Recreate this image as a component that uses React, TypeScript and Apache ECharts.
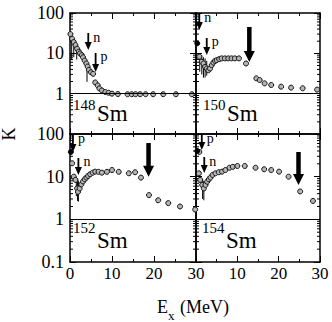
import React, { useEffect, useRef } from "react";
import * as echarts from "echarts";

const FONT = "Liberation Serif, Times New Roman, serif";

// x tick labels (MeV) and y tick labels (K)
const xTicks = [0, 10, 20, 30];
const yDecades = [0.1, 1, 10, 100];
const minorY = [0.2, 0.3, 0.4, 0.5, 0.6, 0.7, 0.8, 0.9, 2, 3, 4, 5, 6, 7, 8, 9, 20, 30, 40, 50, 60, 70, 80, 90];

// 148Sm
const sm148: [number, number][] = [
  [0.1, 30], [0.5, 23], [0.9, 19], [1.3, 16], [1.7, 13], [2.1, 11], [2.4, 10], [2.8, 9], [3.1, 8],
  [3.5, 6.6], [3.9, 5.6], [4.2, 4.7], [4.5, 3.9], [5.0, 3.4], [5.5, 3.1], [6.0, 1.9], [6.6, 1.6],
  [7.0, 1.35], [7.6, 1.2], [8.4, 1.1], [9.2, 1.05], [10.0, 1.0], [11.4, 0.98], [13.7, 0.97], [14.7, 0.97],
  [15.6, 0.97], [16.7, 0.97], [18.0, 0.97], [19.8, 0.97], [22.2, 0.97], [25.2, 0.97], [29.0, 0.97],
];
const sm148Filled: [number, number][] = [];
const err148: [number, number, number][] = [
  [0.4, 7, 26], [0.9, 8, 20], [1.6, 7, 14], [4.05, 1.97, 6.2],
];
const arrows148 = [
  { x: 4.35, top: 31.9, tip: 12.1, label: "n", thick: false },
  { x: 6.1, top: 10.2, tip: 3.44, label: "p", thick: false },
];

// 150Sm
const sm150: [number, number][] = [
  [0.8, 8.3], [1.4, 6.2], [1.8, 5.6], [2.2, 4.6], [2.6, 4.2], [3.0, 3.8], [3.4, 4.2], [3.8, 5.1],
  [4.2, 5.9], [4.6, 6.5], [5.0, 6.8], [5.6, 7.2], [6.2, 7.5], [7.0, 7.5], [7.8, 7.5], [8.6, 7.5],
  [9.4, 7.5], [10.4, 7.5], [12.1, 5.6], [14.6, 2.4], [15.4, 2.18], [16.6, 1.8], [18.2, 1.64],
  [20.6, 1.49], [23.0, 1.41], [25.8, 1.36], [29.3, 1.26],
];
const sm150Filled: [number, number][] = [[0.3, 17.7]];
const err150: [number, number, number][] = [
  [0.9, 3.5, 10], [1.4, 3, 9], [1.8, 2.5, 8], [2.2, 2.5, 7.5], [2.6, 2.8, 6.5],
];
const arrows150 = [
  { x: 0.8, top: 100, tip: 37.8, label: "n", thick: false },
  { x: 2.6, top: 24, tip: 9.1, label: "p", thick: false },
  { x: 12.9, top: 45, tip: 6.1, label: "", thick: true },
];

// 152Sm
const sm152: [number, number][] = [
  [0.5, 20.6], [0.9, 10], [1.3, 8.4], [1.7, 5.3], [1.9, 4.4], [2.3, 5.3], [2.7, 6.6], [3.1, 7.7],
  [3.5, 8.7], [3.9, 9.5], [4.3, 10.4], [4.8, 11.4], [5.4, 12.4], [6.0, 13.1], [6.8, 13], [7.6, 12.4],
  [8.8, 13], [10.0, 14.3], [11.6, 13], [14.0, 12], [15.5, 12.7], [16.9, 9.5], [18.8, 3.7],
  [21.0, 2.8], [23.4, 2.4], [26.2, 2.0], [29.8, 1.7],
];
const sm152Filled: [number, number][] = [[0.2, 38]];
const err152: [number, number, number][] = [
  [1.5, 3.5, 10], [1.8, 2.7, 9], [2.0, 2.6, 8],
];
const arrows152 = [
  { x: 0.7, top: 95, tip: 37.9, label: "p", thick: false },
  { x: 2.0, top: 27.4, tip: 11.0, label: "n", thick: false },
  { x: 18.7, top: 61.5, tip: 10, label: "", thick: true },
];

// 154Sm
const sm154: [number, number][] = [
  [0.8, 38], [0.7, 12], [1.0, 8.4], [1.5, 6.4], [1.9, 5.3], [2.3, 6.4], [2.7, 7.6], [3.1, 8.7],
  [3.5, 9.5], [4.0, 11], [4.7, 12], [5.5, 12.7], [6.3, 13.1], [7.1, 14.3], [8.1, 16.2], [8.9, 17],
  [10.0, 17.8], [11.8, 17.8], [14.4, 16.2], [16.5, 14.9], [18.2, 14.3], [20.1, 13.1], [22.4, 10],
  [25.2, 4.5], [28.3, 2.7],
];
const sm154Filled: [number, number][] = [[0.3, 40]];
const err154: [number, number, number][] = [
  [1.6, 3, 9], [1.9, 2.8, 8],
];
const arrows154 = [
  { x: 1.4, top: 95, tip: 42.2, label: "p", thick: false },
  { x: 2.0, top: 28.9, tip: 12.2, label: "n", thick: false },
  { x: 24.8, top: 37.9, tip: 6.4, label: "", thick: true },
];

type Arrow = { x: number; top: number; tip: number; label: string; thick: boolean };

function buildPanel(
  g: number,
  pts: [number, number][],
  filled: [number, number][],
  errs: [number, number, number][],
  arrows: Arrow[],
) {
  const xi = 2 * g;
  const yi = 2 * g;
  return [
    {
      type: "custom",
      xAxisIndex: xi,
      yAxisIndex: yi,
      data: minorY.map((v) => [0, v]),
      silent: true,
      z: 1,
      renderItem: (params: any, api: any) => {
        const cs = params.coordSys;
        const y = api.coord([0, api.value(1)])[1];
        return {
          type: "group",
          children: [
            { type: "line", shape: { x1: cs.x, y1: y, x2: cs.x + 3, y2: y }, style: { stroke: "#000", lineWidth: 1 } },
            { type: "line", shape: { x1: cs.x + cs.width - 3, y1: y, x2: cs.x + cs.width, y2: y }, style: { stroke: "#000", lineWidth: 1 } },
          ],
        };
      },
    },
    {
      type: "custom",
      xAxisIndex: xi,
      yAxisIndex: yi,
      data: errs,
      encode: { x: 0, y: [1, 2] },
      silent: true,
      z: 2,
      renderItem: (params: any, api: any) => {
        const p1 = api.coord([api.value(0), api.value(1)]);
        const p2 = api.coord([api.value(0), api.value(2)]);
        return { type: "line", shape: { x1: p1[0], y1: p1[1], x2: p2[0], y2: p2[1] }, style: { stroke: "#000", lineWidth: 1 } };
      },
    },
    {
      type: "scatter",
      xAxisIndex: xi,
      yAxisIndex: yi,
      data: pts,
      symbol: "circle",
      symbolSize: 5,
      itemStyle: { color: "#b4b4b4", borderColor: "#111", borderWidth: 1, opacity: 1 },
      z: 3,
      markLine: {
        silent: true,
        symbol: ["none", "none"],
        label: { show: false },
        lineStyle: { color: "#000", width: 1.2, type: "solid" },
        data: [{ yAxis: 1 }],
      },
    },
    {
      type: "scatter",
      xAxisIndex: xi,
      yAxisIndex: yi,
      data: filled,
      symbol: "circle",
      symbolSize: 5,
      itemStyle: { color: "#000", borderColor: "#000", borderWidth: 1, opacity: 1 },
      z: 3,
    },
    {
      type: "custom",
      xAxisIndex: xi,
      yAxisIndex: yi,
      data: arrows.map((a) => [a.x, a.top, a.tip]),
      encode: { x: 0, y: [1, 2] },
      silent: true,
      z: 5,
      renderItem: (params: any, api: any) => {
        const a = arrows[params.dataIndex];
        const p1 = api.coord([a.x, a.top]);
        const p2 = api.coord([a.x, a.tip]);
        const sw = a.thick ? 4.5 : 1.8;
        const hw = a.thick ? 11 : 7;
        const hl = a.thick ? 11 : 8;
        const x = p1[0];
        const children: any[] = [
          { type: "line", shape: { x1: x, y1: p1[1], x2: x, y2: p2[1] - hl + 1 }, style: { stroke: "#000", lineWidth: sw } },
          {
            type: "polygon",
            shape: { points: [[x - hw / 2, p2[1] - hl], [x + hw / 2, p2[1] - hl], [x, p2[1]]] },
            style: { fill: "#000" },
          },
        ];
        if (a.label) {
          children.push({
            type: "text",
            style: {
              text: a.label,
              x: x + 5,
              y: p1[1] + 4,
              fontSize: 14,
              fontFamily: FONT,
              fill: "#000",
              align: "left",
              verticalAlign: "middle",
              textAlign: "left",
              textVerticalAlign: "middle",
            },
          });
        }
        return { type: "group", children };
      },
    },
  ];
}

const App: React.FC = () => {
  const ref = useRef<HTMLDivElement>(null);
  useEffect(() => {
    if (!ref.current) return;
    const chart = echarts.init(ref.current, null, { renderer: "svg" });
    const grids = [
      { left: 70, top: 13, width: 126, height: 121 },
      { left: 196, top: 13, width: 124, height: 121 },
      { left: 70, top: 134, width: 126, height: 128 },
      { left: 196, top: 134, width: 124, height: 128 },
    ];
    const axisLine = { show: true, onZero: false, lineStyle: { color: "#000", width: 1.5 } };
    const xAxes: any[] = [];
    const yAxes: any[] = [];
    grids.forEach((_, g) => {
      const bottomRow = g >= 2;
      const leftCol = g % 2 === 0;
      const xBase = {
        type: "value",
        gridIndex: g,
        min: xTicks[0],
        max: xTicks[xTicks.length - 1],
        interval: 10,
        splitLine: { show: false },
        axisLine,
        axisTick: { show: true, inside: true, length: 6, lineStyle: { color: "#000", width: 1 } },
        minorTick: { show: true, splitNumber: 2, length: 3, lineStyle: { color: "#000", width: 1 } },
      };
      xAxes.push({
        ...xBase,
        position: "bottom",
        axisLabel: {
          show: bottomRow,
          margin: 3,
          color: "#000",
          fontFamily: FONT,
          fontSize: 17,
          formatter: (v: number) => (!leftCol && v === 0 ? "" : String(v)),
        },
      });
      xAxes.push({ ...xBase, position: "top", axisLabel: { show: false } });
      const yBase = {
        type: "log",
        logBase: 10,
        gridIndex: g,
        min: yDecades[0],
        max: yDecades[yDecades.length - 1],
        splitLine: { show: false },
        axisLine,
        axisTick: { show: true, inside: true, length: 6, lineStyle: { color: "#000", width: 1 } },
      };
      yAxes.push({
        ...yBase,
        position: "left",
        axisLabel: {
          show: leftCol,
          margin: 6,
          color: "#000",
          fontFamily: FONT,
          fontSize: 18,
          formatter: (v: number) => {
            if (v < 0.5) return bottomRow ? "0.1" : "";
            return String(Math.round(v));
          },
        },
      });
      yAxes.push({ ...yBase, position: "right", axisLabel: { show: false } });
    });

    const txt = (text: string, left: number, top: number, size: number, extra: any = {}) => ({
      type: "text",
      left,
      top,
      style: { text, fontSize: size, fontFamily: FONT, fill: "#000" },
      ...extra,
    });

    chart.setOption({
      animation: false,
      backgroundColor: "#fff",
      grid: grids.map((g) => ({ ...g, containLabel: false })),
      xAxis: xAxes,
      yAxis: yAxes,
      series: [
        ...buildPanel(0, sm148, sm148Filled, err148, arrows148),
        ...buildPanel(1, sm150, sm150Filled, err150, arrows150),
        ...buildPanel(2, sm152, sm152Filled, err152, arrows152),
        ...buildPanel(3, sm154, sm154Filled, err154, arrows154),
      ],
      graphic: [
        txt("148", 73, 97, 15),
        txt("Sm", 97, 102, 23),
        txt("150", 203, 97, 15),
        txt("Sm", 227, 102, 23),
        txt("152", 73, 220, 15),
        txt("Sm", 97, 229, 23),
        txt("154", 202, 220, 15),
        txt("Sm", 226, 229, 23),
        {
          type: "text",
          x: 9,
          y: 134,
          rotation: Math.PI / 2,
          style: { text: "K", fontSize: 18, fontFamily: FONT, fill: "#000", align: "center", verticalAlign: "middle", textAlign: "center", textVerticalAlign: "middle" },
        },
        txt("E", 157, 298, 18),
        txt("x", 168, 309, 13),
        txt("(MeV)", 180, 298, 18),
      ],
    });
    return () => chart.dispose();
  }, []);
  return <div ref={ref} style={{ position: "absolute", left: 0, top: 0, width: 332, height: 322 }} />;
};

export default App;
